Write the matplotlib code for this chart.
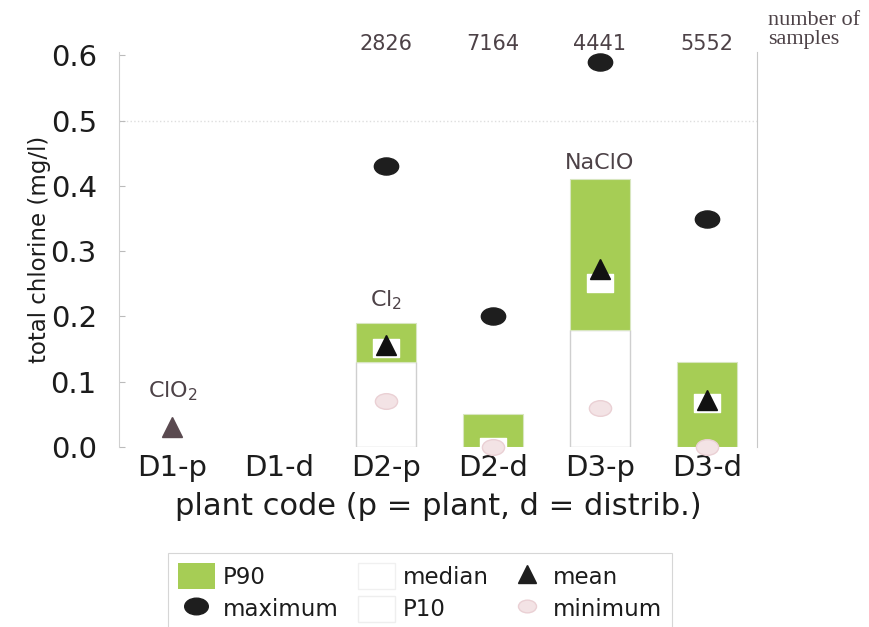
import numpy as np
import matplotlib
matplotlib.use("Agg")
import matplotlib.pyplot as plt
from matplotlib.path import Path
from matplotlib.transforms import Affine2D
from matplotlib.patches import Patch
from matplotlib.lines import Line2D

# ---- data ----
categories = ["D1-p", "D1-d", "D2-p", "D2-d", "D3-p", "D3-d"]
p10 = [np.nan, np.nan, 0.13, 0.0, 0.18, 0.0]
p90 = [np.nan, np.nan, 0.19, 0.05, 0.41, 0.13]
median = [np.nan, np.nan, 0.152, 0.0, 0.251, 0.067]
mean = [0.03, np.nan, 0.157, np.nan, 0.272, 0.072]
maximum = [np.nan, np.nan, 0.43, 0.20, 0.59, 0.35]
minimum = [np.nan, np.nan, 0.07, 0.0, 0.06, 0.0]
n_samples = ["", "", "2826", "7164", "4441", "5552"]
disinfectant = {0: ("ClO$_2$", 0.085), 2: ("Cl$_2$", 0.225), 4: ("NaClO", 0.435)}

plt.rcParams['font.family'] = ['DejaVu Sans']
plt.rcParams['mathtext.fontset'] = 'dejavusans'

fig = plt.figure(figsize=(8.69, 6.27), dpi=100)
ax = fig.add_axes([0.137, 0.287, 0.734, 0.630])

x = np.arange(len(categories))
green = '#a6cd55'
dark = '#4d4247'
txt = '#1c1c1c'
w = 0.56

ellipse = Path.unit_circle().transformed(Affine2D().scale(1.42, 1.0))
rect = Path([(-1.35, -1), (1.35, -1), (1.35, 1), (-1.35, 1), (-1.35, -1)],
            [Path.MOVETO, Path.LINETO, Path.LINETO, Path.LINETO, Path.CLOSEPOLY])

p10a = np.array(p10, dtype=float)
p90a = np.array(p90, dtype=float)
valid = ~np.isnan(p90a)
ax.bar(x[valid], p10a[valid], width=w, bottom=0, color='white',
       edgecolor='#cfcfcf', linewidth=1.0, zorder=2)
ax.bar(x[valid], (p90a - p10a)[valid], width=w, bottom=p10a[valid],
       color=green, edgecolor='#d8e6c0', linewidth=0.8, zorder=2)

ax.plot(x, median, linestyle='none', marker=rect, markersize=18,
        markerfacecolor='white', markeredgecolor='white', zorder=3)
mean_colors = ['#5a4a50', '#111', '#111', '#111', '#111', '#111']
for xi, m, c in zip(x, mean, mean_colors):
    if not np.isnan(m):
        ax.plot(xi, m, linestyle='none', marker='^', markersize=14,
                color=c, zorder=4)
ax.plot(x, maximum, linestyle='none', marker=ellipse, markersize=17.5,
        color='#1e1e1e', zorder=4, clip_on=False)
ax.plot(x, minimum, linestyle='none', marker=ellipse, markersize=16,
        markerfacecolor='#f3e3e5', markeredgecolor='#ead0d4',
        zorder=4, clip_on=False)

for xi, lab in zip(x, n_samples):
    if lab:
        ax.text(xi, 0.617, lab, ha='center', va='center', fontsize=15,
                color=dark, clip_on=False)
for xi, (lab, yy) in disinfectant.items():
    ax.text(xi, yy, lab, ha='center', va='center', fontsize=16, color=dark)

ax.axhline(0.5, color='#dedede', linestyle=':', linewidth=1.0, zorder=1)

ax.set_xlim(-0.5, 5.47)
ax.set_ylim(0, 0.605)
ax.set_yticks(np.arange(0, 0.61, 0.1))
ax.set_yticklabels([f"{v:.1f}" for v in np.arange(0, 0.61, 0.1)])
ax.set_xticks(x)
ax.set_xticklabels(categories)
ax.tick_params(axis='y', direction='in', length=4, color='#bbbbbb',
               labelsize=21, pad=16, labelcolor=txt)
ax.tick_params(axis='x', length=0, labelsize=21, pad=5, labelcolor=txt)
ax.set_ylabel("total chlorine (mg/l)", fontsize=16.5, color=txt, labelpad=0)
ax.set_xlabel("plant code (p = plant, d = distrib.)", fontsize=22,
              color=txt, labelpad=7)

for s in ['top', 'bottom']:
    ax.spines[s].set_visible(False)
ax.spines['left'].set_color('#d0d0d0')
ax.spines['right'].set_color('#c8c8c8')

fig.text(0.884, 0.952, "number of\nsamples", family='Liberation Serif',
         fontsize=16, color=dark, ha='left', va='center', linespacing=0.95)

handles = [
    Patch(facecolor=green, edgecolor='none', label='P90'),
    Line2D([], [], linestyle='none', marker=ellipse, markersize=17,
           color='#1e1e1e', label='maximum'),
    Patch(facecolor='white', edgecolor='#f0f0f0', label='median'),
    Patch(facecolor='white', edgecolor='#eeeeee', label='P10'),
    Line2D([], [], linestyle='none', marker='^', markersize=13,
           color='#1e1e1e', label='mean'),
    Line2D([], [], linestyle='none', marker=ellipse, markersize=13,
           markerfacecolor='#f3e3e5', markeredgecolor='#ead0d4',
           label='minimum'),
]
leg = fig.legend(handles=handles, ncol=3, loc='upper left',
                 bbox_to_anchor=(0.193, 0.118), borderaxespad=0,
                 fontsize=16.5, frameon=True, fancybox=False,
                 edgecolor='#cccccc', handlelength=1.6, handleheight=1.35,
                 columnspacing=0.85, handletextpad=0.35, borderpad=0.45,
                 labelspacing=0.3, labelcolor=txt)
leg.get_frame().set_linewidth(0.8)

fig.savefig("out.png", dpi=100)
